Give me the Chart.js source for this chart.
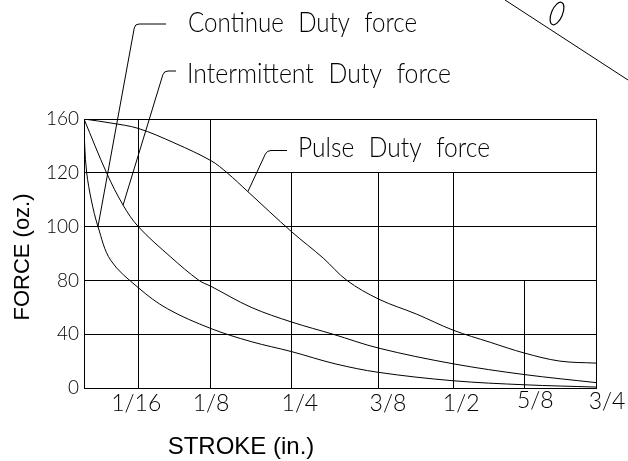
<!DOCTYPE html>
<html>
<head>
<meta charset="utf-8">
<script src="https://cdn.jsdelivr.net/npm/chart.js@4"></script>
<style>
  html, body { margin: 0; padding: 0; background: #fff; }
  #wrap { width: 628px; height: 461px; }
</style>
</head>
<body>
<div id="wrap"><canvas id="forceChart"></canvas></div>
<script>
// axis ticks
const strokeTicks = [0, 1/16, 1/8, 1/4, 3/8, 1/2, 5/8, 3/4];
const strokeLabels = ['', '1/16', '1/8', '1/4', '3/8', '1/2', '5/8', '3/4'];
const forceTicks = [0, 40, 80, 100, 120, 160];
// force (oz.) where each vertical grid line begins
const strokeGridTop = [160, 160, 160, 120, 120, 120, 80, 160];

// curves, stroke (in.) / force (oz.)
const continueStroke = [0, 0.0008, 0.0031, 0.0084, 0.0161, 0.0307, 0.0625, 0.0874, 0.125, 0.187, 0.25, 0.312, 0.375, 0.5, 0.625, 0.75];
const continueForce  = [160, 140, 120, 109.9, 100, 87.5, 74.6, 59, 44.2, 34.5, 27, 18, 11.6, 5.4, 2.4, 0.7];

const intermStroke = [0, 0.026, 0.045, 0.0625, 0.0904, 0.1147, 0.125, 0.187, 0.25, 0.309, 0.375, 0.5, 0.625, 0.75];
const intermForce  = [160, 120, 108, 100, 88.7, 80, 75.6, 60, 49, 40, 29.6, 18, 10, 4];

const pulseStroke = [0, 0.031, 0.0625, 0.094, 0.125, 0.15, 0.182, 0.25, 0.295, 0.329, 0.375, 0.438, 0.5, 0.565, 0.625, 0.687, 0.75];
const pulseForce  = [160, 157, 153, 142, 129, 120, 113, 98, 88.3, 80, 66, 55, 43, 34, 26, 20, 18.5];

const seriesNames = ['Continue Duty force', 'Intermittent Duty force', 'Pulse Duty force'];
// which point of each curve the leader line points to
const leaderPoint = [4, 2, 6];

// the drawing is not to scale: tick values sit at these fractions of the axis
const scaleStops = {
  x: { breaks: strokeTicks, stops: [0, 0.106, 0.248, 0.406, 0.576, 0.721, 0.860, 1] },
  y: { breaks: forceTicks, stops: [0, 0.2, 0.4, 0.6, 0.8, 1] }
};

class PiecewiseScale extends Chart.LinearScale {
  buildTicks() {
    return scaleStops[this.id].breaks.map(v => ({ value: v }));
  }
  getPixelForValue(value) {
    if (value === null || value === undefined) return NaN;
    const { breaks, stops } = scaleStops[this.id];
    let f = stops[stops.length - 1];
    if (value <= breaks[0]) f = stops[0];
    else {
      for (let i = 1; i < breaks.length; i++) {
        if (value <= breaks[i]) {
          f = stops[i - 1] + (value - breaks[i - 1]) / (breaks[i] - breaks[i - 1]) * (stops[i] - stops[i - 1]);
          break;
        }
      }
    }
    return this.getPixelForDecimal(f);
  }
  getValueForPixel(pixel) {
    const { breaks, stops } = scaleStops[this.id];
    const f = this.getDecimalForPixel(pixel);
    for (let i = 1; i < stops.length; i++) {
      if (f <= stops[i]) {
        return breaks[i - 1] + (f - stops[i - 1]) / (stops[i] - stops[i - 1]) * (breaks[i] - breaks[i - 1]);
      }
    }
    return breaks[breaks.length - 1];
  }
}
PiecewiseScale.id = 'piecewise';
PiecewiseScale.defaults = {};
Chart.register(PiecewiseScale);

const cadFont = 'Lato';

function toPoints(xs, ys) {
  return xs.map((x, i) => ({ x: x, y: ys[i] }));
}

// grid, labels and leaders as in the drawing
const drawingPlugin = {
  id: 'drawing',
  beforeDatasetsDraw(chart) {
    const { ctx, scales: { x, y } } = chart;
    ctx.save();
    ctx.strokeStyle = '#000';
    ctx.lineWidth = 1;
    strokeTicks.forEach((v, i) => {
      const px = Math.round(x.getPixelForValue(v) - 0.5) + 0.5;
      ctx.beginPath();
      ctx.moveTo(px, y.getPixelForValue(strokeGridTop[i]));
      ctx.lineTo(px, y.getPixelForValue(0));
      ctx.stroke();
    });
    ctx.restore();
  },
  afterDraw(chart) {
    const { ctx, scales: { x, y } } = chart;
    ctx.save();
    ctx.fillStyle = '#000';
    ctx.strokeStyle = '#000';
    ctx.lineWidth = 1;

    // stroke tick labels (slightly off the grid lines in the drawing)
    const shift = [0, -2, 0, 8, 9, 8, 11, 11];
    const lift = [0, 0, 0, 0, 0, 0, -3, -2];
    ctx.font = '300 23px ' + cadFont;
    ctx.textAlign = 'center';
    ctx.textBaseline = 'middle';
    strokeLabels.forEach((lab, i) => {
      ctx.fillText(lab, x.getPixelForValue(strokeTicks[i]) + shift[i], 404 + lift[i]);
    });

    // axis titles
    ctx.font = '24px "Liberation Sans", Arial, sans-serif';
    ctx.fillText('STROKE (in.)', 241, 447);
    ctx.save();
    ctx.translate(23, 257);
    ctx.rotate(-Math.PI / 2);
    ctx.font = '22px "Liberation Sans", Arial, sans-serif';
    ctx.fillText('FORCE (oz.)', 0, 0);
    ctx.restore();

    // leaders: elbow x, elbow y, end x, text x, text baseline, text width
    const leaders = [
      [135, 24, 166, 188, 32, 229],
      [164, 71, 176, 187, 83, 264],
      [267, 150.5, 287, 298, 157, 192]
    ];
    leaders.forEach((L, i) => {
      const pt = chart.getDatasetMeta(i).data[leaderPoint[i]];
      const [ex, ey, endX, tx, ty, tw] = L;
      const dx = ex - pt.x, dy = ey - pt.y;
      const len = Math.hypot(dx, dy);
      const r = 4;
      ctx.beginPath();
      ctx.moveTo(pt.x, pt.y);
      ctx.lineTo(ex - dx / len * r, ey - dy / len * r);
      ctx.quadraticCurveTo(ex, ey, ex + r, ey);
      ctx.lineTo(endX, ey);
      ctx.stroke();

      ctx.save();
      ctx.font = '300 28px ' + cadFont;
      ctx.wordSpacing = '9px';
      ctx.textAlign = 'left';
      ctx.textBaseline = 'alphabetic';
      const w = ctx.measureText(seriesNames[i]).width;
      ctx.translate(tx, ty);
      ctx.scale(tw / w, 1);
      ctx.fillText(seriesNames[i], 0, 0);
      ctx.restore();
    });

    // corner mark of the drawing sheet
    ctx.beginPath();
    ctx.moveTo(505, 0);
    ctx.lineTo(628, 80);
    ctx.stroke();
    ctx.lineWidth = 1.2;
    ctx.beginPath();
    ctx.ellipse(557, 13.5, 5.5, 12, 0.4, 0, Math.PI * 2);
    ctx.stroke();
    ctx.restore();
  }
};

function curve(name, xs, ys) {
  return {
    label: name,
    data: toPoints(xs, ys),
    borderColor: '#000',
    borderWidth: 1,
    pointRadius: 0,
    fill: false,
    tension: 0.35
  };
}

const ctx = document.getElementById('forceChart').getContext('2d');
new Chart(ctx, {
  type: 'line',
  data: {
    datasets: [
      curve(seriesNames[0], continueStroke, continueForce),
      curve(seriesNames[1], intermStroke, intermForce),
      curve(seriesNames[2], pulseStroke, pulseForce)
    ]
  },
  options: {
    responsive: true,
    maintainAspectRatio: false,
    animation: false,
    layout: { padding: { top: 119, right: 32, left: 0, bottom: 0 } },
    plugins: { legend: { display: false }, tooltip: { enabled: false } },
    scales: {
      x: {
        type: 'piecewise',
        min: 0,
        max: 0.75,
        grid: { display: false },
        border: { display: true, color: '#000', width: 1 },
        ticks: { display: false },
        afterFit: s => { s.height = 73; }
      },
      y: {
        type: 'piecewise',
        min: 0,
        max: 160,
        grid: { color: '#000', lineWidth: 1, drawTicks: false },
        border: { display: true, color: '#000', width: 1 },
        ticks: {
          padding: 5,
          color: '#000',
          font: { family: cadFont, weight: '300', size: 19 },
          callback: (v, i) => String(forceTicks[i])
        },
        afterFit: s => { s.width = 84; }
      }
    }
  },
  plugins: [drawingPlugin]
});
</script>
</body>
</html>
